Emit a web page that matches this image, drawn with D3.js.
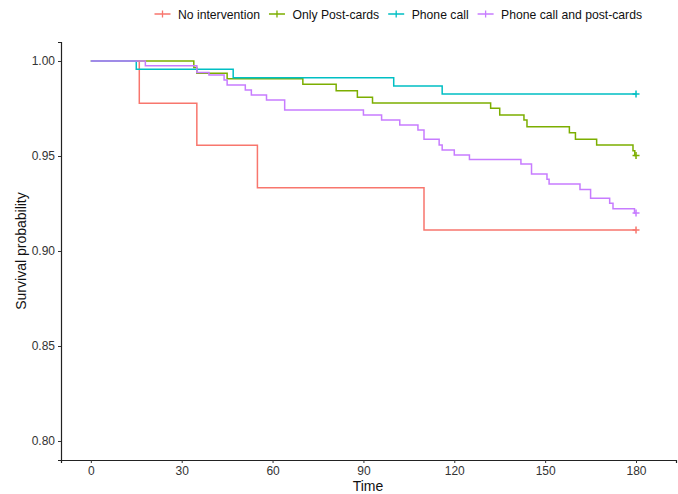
<!DOCTYPE html>
<html>
<head>
<meta charset="utf-8">
<script src="https://cdn.jsdelivr.net/npm/d3@7"></script>
<style>
  body { margin: 0; background: #fff; }
  svg text { font-family: "Liberation Sans", Arial, sans-serif; }
</style>
</head>
<body>
<div id="chart"></div>
<script>
// Groups and colours (ggplot default hues)
const groups = ["No intervention", "Only Post-cards", "Phone call", "Phone call and post-cards"];
const colors = ["#F8766D", "#7CAE00", "#00BFC4", "#C77CFF"];

// Kaplan-Meier steps: time of each drop and survival after it
const noIntTime = [0, 16, 35, 55, 110];
const noIntSurv = [1, 0.9778, 0.9556, 0.9333, 0.9111];

const postTime = [0, 34, 35, 45, 70, 81, 88, 93, 132, 135, 143, 144, 158, 160, 167, 179, 179.6];
const postSurv = [1, 0.9966, 0.9935, 0.9907, 0.9877, 0.9844, 0.9809, 0.9779, 0.9751, 0.9716, 0.9689, 0.9654, 0.9623, 0.9588, 0.9558, 0.9528, 0.9503];

const phoneTime = [0, 15, 47, 100, 116];
const phoneSurv = [1, 0.9956, 0.9912, 0.9869, 0.9826];

const bothTime = [0, 18, 35, 39, 44, 45, 51, 53, 58, 64, 90, 96, 102, 108, 110, 115, 116, 120, 125, 142, 145.5, 150.6, 151.3, 161.5, 165, 171.3, 172.4, 179.5];
const bothSurv = [1, 0.9975, 0.9940, 0.9926, 0.9900, 0.9874, 0.9847, 0.9821, 0.9795, 0.9742, 0.9716, 0.9689, 0.9663, 0.9637, 0.9588, 0.9558, 0.9532, 0.9505, 0.9481, 0.9458, 0.9405, 0.9377, 0.9353, 0.9324, 0.9277, 0.9251, 0.9223, 0.9200];

const censorTime = 180;
const xTicks = [0, 30, 60, 90, 120, 150, 180];
const yTicks = [0.80, 0.85, 0.90, 0.95, 1.00];

const series = [
    {name: groups[0], time: noIntTime, surv: noIntSurv},
    {name: groups[1], time: postTime, surv: postSurv},
    {name: groups[2], time: phoneTime, surv: phoneSurv},
    {name: groups[3], time: bothTime, surv: bothSurv}
];

const W = 678, H = 494;
const margin = {top: 42, right: 2, bottom: 34, left: 61};

const svg = d3.select("#chart")
    .append("svg")
    .attr("width", W)
    .attr("height", H);

// Scales
const x = d3.scaleLinear()
    .domain([-9.85, 193.2])
    .range([margin.left, W - margin.right]);

const y = d3.scaleLinear()
    .domain([0.79, 1.01])
    .range([H - margin.bottom, margin.top]);

// Curves
const line = d3.line()
    .x(d => x(d[0]))
    .y(d => y(d[1]))
    .curve(d3.curveStepAfter);

series.forEach((s, i) => {
    const pts = s.time.map((t, j) => [t, s.surv[j]]);
    pts.push([censorTime, s.surv[s.surv.length - 1]]);
    svg.append("path")
        .datum(pts)
        .attr("fill", "none")
        .attr("stroke", colors[i])
        .attr("stroke-width", 1.5)
        .attr("d", line);

    // censor mark at the end
    const cx = x(censorTime), cy = y(s.surv[s.surv.length - 1]);
    svg.append("path")
        .attr("d", `M${cx - 3.5},${cy}H${cx + 3.5}M${cx},${cy - 3.5}V${cy + 3.5}`)
        .attr("stroke", colors[i])
        .attr("stroke-width", 1.5);
});

// Axes
const xAxis = svg.append("g")
    .attr("transform", `translate(0, ${H - margin.bottom})`)
    .call(d3.axisBottom(x).tickValues(xTicks).tickSize(3).tickPadding(3));

const yAxis = svg.append("g")
    .attr("transform", `translate(${margin.left}, 0)`)
    .call(d3.axisLeft(y).tickValues(yTicks).tickFormat(d3.format(".2f")).tickSize(3).tickPadding(3));

[xAxis, yAxis].forEach(g => {
    g.select(".domain").attr("stroke", "#222").attr("stroke-width", 1.2);
    g.selectAll(".tick line").attr("stroke", "#333");
    g.selectAll(".tick text").attr("fill", "#333").style("font-size", "12px");
});

// Axis titles
svg.append("text")
    .attr("x", 368)
    .attr("y", 491)
    .attr("text-anchor", "middle")
    .style("font-size", "14px")
    .attr("fill", "#111")
    .text("Time");

svg.append("text")
    .attr("transform", `translate(26, ${(margin.top + H - margin.bottom) / 2}) rotate(-90)`)
    .attr("text-anchor", "middle")
    .style("font-size", "14px")
    .attr("fill", "#111")
    .text("Survival probability");

// Legend
const legend = svg.append("g");
let lx = 162.5;
groups.forEach((g, i) => {
    const item = legend.append("g");
    item.append("path")
        .attr("d", `M${lx - 8},14H${lx + 8}M${lx},10.5V17.5`)
        .attr("stroke", colors[i])
        .attr("stroke-width", 1.3);
    const t = item.append("text")
        .attr("x", lx + 15.5)
        .attr("y", 18.5)
        .style("font-size", "12.2px")
        .attr("fill", "#111")
        .text(g);
    lx += 15.5 + t.node().getComputedTextLength() + 17;
});
</script>
</body>
</html>
